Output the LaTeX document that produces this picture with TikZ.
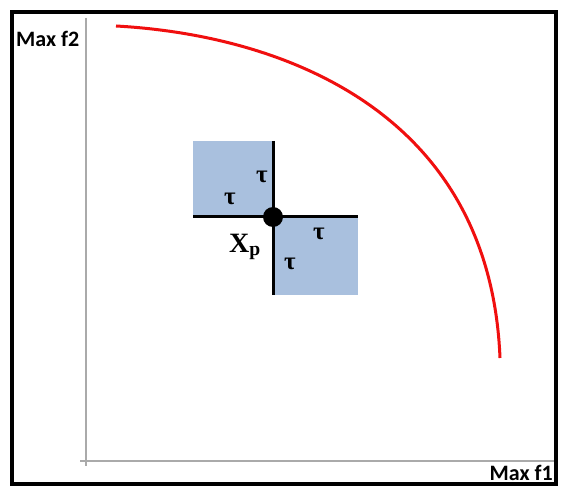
\documentclass[tikz,border=0pt]{standalone}
\usepackage{fontspec}
\setmainfont{Liberation Serif}
\newfontfamily\calib{Carlito}
\definecolor{boxblue}{RGB}{169,192,222}
\definecolor{axisgray}{RGB}{170,170,170}
\definecolor{curvered}{RGB}{240,15,15}
\tikzset{
  axisline/.style={draw=axisgray,line width=1.3pt},
  axislabel/.style={font=\calib\bfseries\fontsize{22}{22}\selectfont,inner sep=0pt},
  taulabel/.style={font=\bfseries\fontsize{25}{25}\selectfont,inner sep=0pt},
  quad/.style={fill=boxblue,draw=none},
  cross/.style={draw=black,line width=3pt}
}
\begin{document}
\begin{tikzpicture}[x=1pt,y=-1pt]
\useasboundingbox (0,0) rectangle (562,489);
\fill[white] (0,0) rectangle (562,489);
\draw[line width=4pt] (12,12) rectangle (556,484);
% axes
\coordinate (ytop) at (86,18);
\coordinate (ybot) at (86,466);
\coordinate (xl) at (80,461);
\coordinate (xr) at (554,461);
\draw[axisline] (ytop) -- (ybot);
\draw[axisline] (xl) -- (xr);
\node[axislabel,anchor=west] (f2) at (16,39) {Max f2};
\node[axislabel,anchor=east] (f1) at (553,473) {Max f1};
% curve
\coordinate (cs) at (116,26);
\coordinate (ce) at (500,358);
\draw[curvered,line width=3pt] (cs) .. controls (280,35) and (490,110) .. (ce);
% squares
\fill[quad] (193,141) rectangle (273,217);
\fill[quad] (273,217) rectangle (358,295);
\coordinate (hl) at (193,217);
\coordinate (hr) at (358,217);
\coordinate (vt) at (273,141);
\coordinate (vb) at (273,295);
\draw[cross] (hl) -- (hr);
\draw[cross] (vt) -- (vb);
\node[circle,fill=black,minimum size=20pt,inner sep=0pt] (xp) at (273,217) {};
\node[taulabel] (t1) at (262,177) {τ};
\node[taulabel] (t2) at (230,199) {τ};
\node[taulabel] (t3) at (319,234) {τ};
\node[taulabel] (t4) at (290,264) {τ};
\node[font=\bfseries\fontsize{28}{28}\selectfont,inner sep=0pt] (xl2) at (245,247) {X\textsubscript{p}};
\end{tikzpicture}
\end{document}
